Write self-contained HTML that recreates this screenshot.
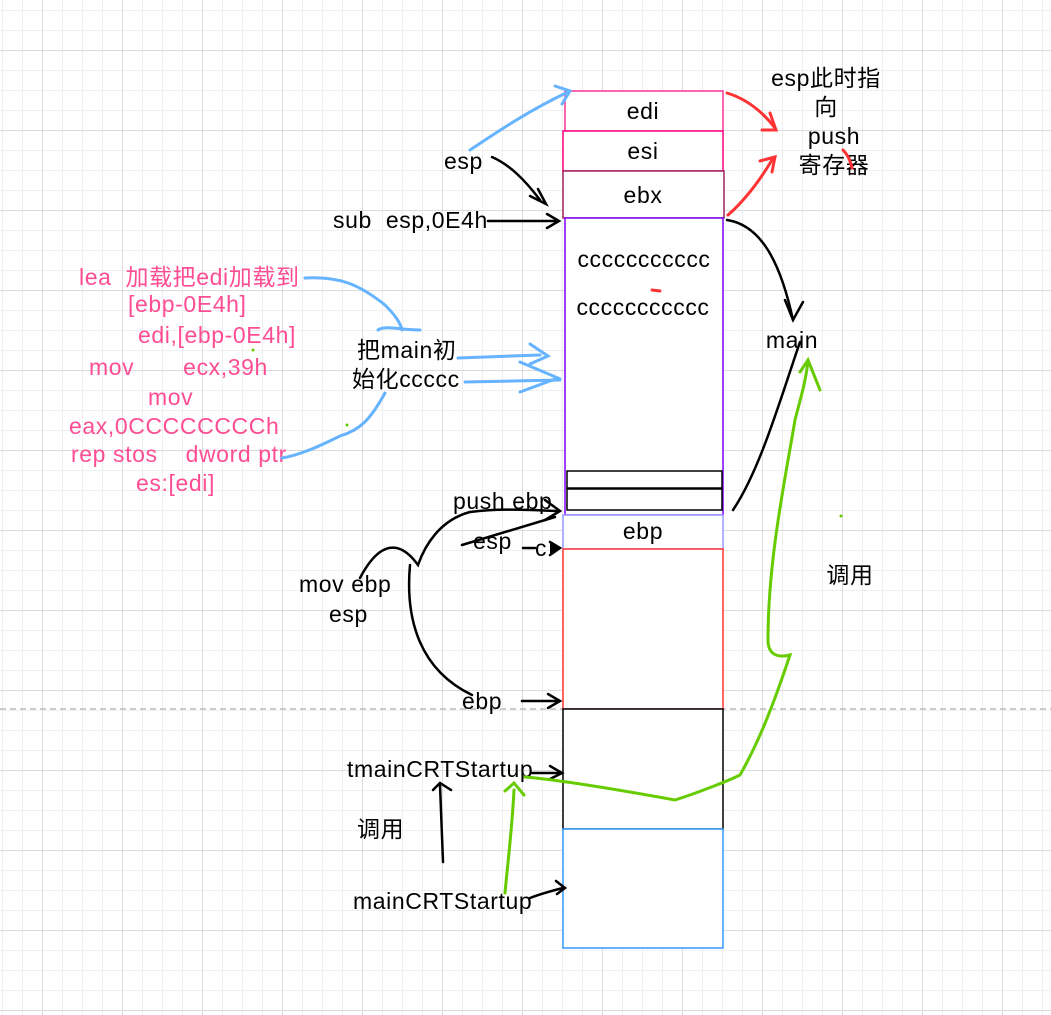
<!DOCTYPE html>
<html><head><meta charset="utf-8"><style>
html,body{margin:0;padding:0;background:#fff;}
svg{display:block;}
text{font-family:"Liberation Sans","Noto Sans CJK SC",sans-serif;font-size:23px;letter-spacing:0.6px;white-space:pre;}
</style></head><body>
<svg width="1051" height="1015" xmlns="http://www.w3.org/2000/svg" xml:space="preserve">
<defs>
<pattern id="mi" x="2" y="10" width="20" height="20" patternUnits="userSpaceOnUse">
<path d="M0 0H20M0 0V20" stroke="#efefef" stroke-width="2" fill="none"/></pattern>
<pattern id="ma" x="42" y="50" width="80" height="80" patternUnits="userSpaceOnUse">
<path d="M0 0H80M0 0V80" stroke="#cfcfcf" stroke-width="1.2" fill="none"/></pattern>
</defs>
<rect width="1051" height="1015" fill="url(#mi)"/>
<rect width="1051" height="1015" fill="url(#ma)"/>
<line x1="0" y1="709" x2="1051" y2="709" stroke="#bbb" stroke-width="1.5" stroke-dasharray="6,4"/>

<rect x="565" y="91" width="158" height="40" fill="#fff" stroke="#ff3399" stroke-width="1.5"/>
<rect x="563" y="131" width="160" height="40" fill="#fff" stroke="#ff0080" stroke-width="1.5"/>
<rect x="563" y="171" width="161" height="47" fill="#fff" stroke="#a0205a" stroke-width="1.5"/>
<rect x="565" y="218" width="158" height="297" fill="#fff" stroke="#7f00ff" stroke-width="1.5"/>
<rect x="567" y="471" width="155" height="17" fill="#fff" stroke="#000" stroke-width="1.5"/>
<rect x="567" y="489" width="155" height="21" fill="#fff" stroke="#000" stroke-width="1.5"/>
<rect x="563" y="515" width="160" height="34" fill="#fff" stroke="#9999ff" stroke-width="1.5"/>
<rect x="563" y="549" width="160" height="160" fill="#fff" stroke="#ff3333" stroke-width="1.5"/>
<rect x="563" y="709" width="160" height="120" fill="#fff" stroke="#000" stroke-width="1.5"/>
<rect x="563" y="829" width="160" height="119" fill="#fff" stroke="#3399ff" stroke-width="1.5"/>

<g text-anchor="middle" fill="#000">
<text x="643" y="119">edi</text>
<text x="643" y="159">esi</text>
<text x="643" y="203">ebx</text>
<text x="644" y="267">ccccccccccc</text>
<text x="643" y="315">ccccccccccc</text>
<text x="643" y="539">ebp</text>
</g>

<g text-anchor="middle" fill="#000">
<text x="826" y="86">esp此时指</text>
<text x="826" y="115">向</text>
<text x="834" y="144">push</text>
<text x="834" y="173">寄存器</text>
<text x="792" y="348">main</text>
<text x="850" y="583">调用</text>
</g>

<g fill="#000">
<text x="444" y="169">esp</text>
<text x="333" y="228">sub  esp,0E4h</text>
<text x="357" y="358">把main初</text>
<text x="352" y="387">始化ccccc</text>
<text x="453" y="509">push ebp</text>
<text x="473" y="549">esp</text>
<text x="535" y="556" font-size="18">c</text>
<text x="299" y="592">mov ebp</text>
<text x="329" y="622">esp</text>
<text x="462" y="709">ebp</text>
<text x="347" y="777">tmainCRTStartup</text>
<text x="357" y="837">调用</text>
<text x="353" y="909">mainCRTStartup</text>
</g>

<g fill="#ff4d94">
<text x="79" y="285">lea  加载把edi加载到</text>
<text x="128" y="312">[ebp-0E4h]</text>
<text x="138" y="343">edi,[ebp-0E4h]</text>
<text x="89" y="375">mov       ecx,39h</text>
<text x="148" y="405">mov</text>
<text x="69" y="434">eax,0CCCCCCCCh</text>
<text x="71" y="462">rep stos    dword ptr</text>
<text x="136" y="491">es:[edi]</text>
</g>

<g stroke="#66b3ff" stroke-width="3" fill="none" stroke-linecap="round">
<path d="M470 150 C500 130 530 110 568 92"/>
<path d="M555 86 L570 91 L562 104"/>
<path d="M305 278 C340 276 360 285 385 305 C395 315 400 322 402 330"/>
<path d="M378 330 C385 325 400 330 420 330"/>
<path d="M458 358 L540 355"/>
<path d="M530 344 L548 356 L530 364"/>
<path d="M465 382 L560 380"/>
<path d="M520 362 L558 378 L520 392"/>
<path d="M385 393 C370 420 360 430 340 436 C320 446 300 455 282 458"/>
</g>

<g stroke="#ff3333" stroke-width="3" fill="none" stroke-linecap="round">
<path d="M727 93 C750 100 765 115 775 128"/>
<path d="M770 113 L776 130 L762 130"/>
<path d="M728 215 C745 200 760 180 772 160"/>
<path d="M760 161 L775 157 L772 172"/>
<path d="M843 150 C848 155 850 160 852 168"/>
<path d="M652 290 L660 291"/>
</g>

<g stroke="#000" stroke-width="2.5" fill="none" stroke-linecap="round">
<path d="M492 157 C510 165 525 180 540 200"/>
<path d="M530 196 L546 204 L538 189"/>
<path d="M488 221 L555 221"/>
<path d="M547 214 L559 221 L547 228"/>
<path d="M727 220 C760 225 780 260 793 320"/>
<path d="M785 300 L793 320 L803 302"/>
<path d="M733 510 C760 470 780 400 800 342"/>
<path d="M360 578 C380 540 400 540 418 565 C425 545 440 520 470 512 C500 508 530 510 558 511"/>
<path d="M545 500 L560 511 L545 520"/>
<path d="M462 545 L555 517"/>
<path d="M410 565 C405 620 420 670 472 695"/>
<path d="M523 548 L535 548"/>
<path d="M550 542 L560 548 L550 555" fill="#000"/>
<path d="M522 701 L558 701"/>
<path d="M548 694 L560 701 L548 708"/>
<path d="M532 773 L560 773"/>
<path d="M550 766 L562 773 L550 779"/>
<path d="M443 862 L440 785"/>
<path d="M433 790 L440 783 L451 790"/>
<path d="M530 898 C540 894 555 890 563 888"/>
<path d="M556 881 L565 888 L557 894"/>
</g>

<g stroke="#66cc00" stroke-width="3" fill="none" stroke-linecap="round">
<path d="M525 777 C560 780 620 790 675 800 C700 792 730 780 740 775 C760 740 775 700 790 655 C778 658 768 655 768 640 C768 560 785 480 795 420 C800 400 805 385 808 362"/>
<path d="M800 372 L808 360 L820 390"/>
<path d="M505 893 C508 860 512 830 514 790"/>
<path d="M505 791 L514 783 L524 795"/>
</g>
<circle cx="253" cy="350" r="1.5" fill="#66cc00"/>
<circle cx="347" cy="425" r="1.5" fill="#66cc00"/>
<circle cx="841" cy="516" r="1.5" fill="#66cc00"/>
</svg>
</body></html>
